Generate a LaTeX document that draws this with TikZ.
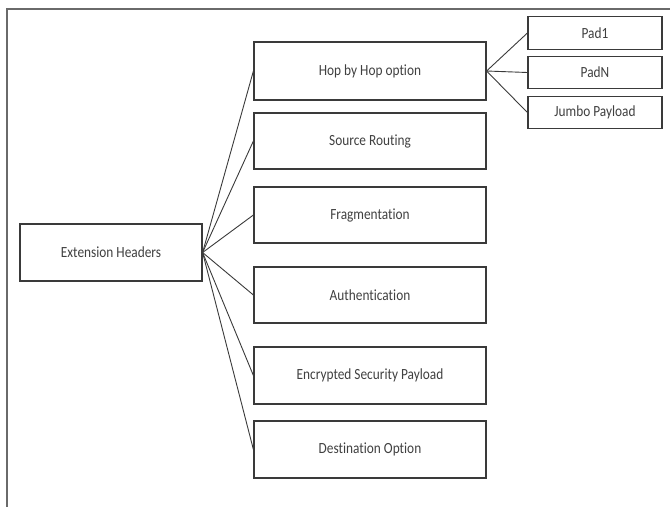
\documentclass[tikz,border=0pt]{standalone}
\usepackage{fontspec}
\setmainfont[FakeStretch=0.86,Ligatures=NoCommon]{Carlito}
\definecolor{boxline}{HTML}{3A3A3A}
\definecolor{txt}{HTML}{404040}
\definecolor{frame}{HTML}{6A6A6A}
\begin{document}
\begin{tikzpicture}[x=1pt,y=-1pt,
  box/.style={draw=boxline,line width=1.2pt,inner sep=0pt,text=txt,font=\fontsize{15.5}{18}\selectfont},
  midbox/.style={box,minimum width=232pt,minimum height=57pt},
  smallbox/.style={box,minimum width=134pt,minimum height=32.5pt},
  conn/.style={draw=boxline,line width=0.9pt}]
\useasboundingbox (0,0) rectangle (670,507);
\draw[frame,line width=1.4pt] (670,9) -- (7,9) -- (7,507);
\node[box,minimum width=182pt,minimum height=57pt] (ext) at (111,252.5) {Extension Headers};
\node[midbox,minimum height=58pt] (hop) at (370,71) {Hop by Hop option};
\node[midbox,minimum height=56pt] (src) at (370,141) {Source Routing};
\node[midbox,minimum height=56pt] (frag) at (370,215) {Fragmentation};
\node[midbox,minimum height=56pt] (auth) at (370,295) {Authentication};
\node[midbox] (esp) at (370,375.5) {Encrypted Security Payload};
\node[midbox] (dest) at (370,449.5) {Destination Option};
\node[smallbox] (pad1) at (595,33) {Pad1};
\node[smallbox] (padn) at (595,72.5) {PadN};
\node[smallbox] (jumbo) at (595,112.5) {Jumbo Payload};
\foreach \t in {hop,src,frag,auth,esp,dest}
  \draw[conn] (ext.east) -- (\t.west);
\foreach \t in {pad1,padn,jumbo}
  \draw[conn] (hop.east) -- (\t.west);
\end{tikzpicture}
\end{document}
